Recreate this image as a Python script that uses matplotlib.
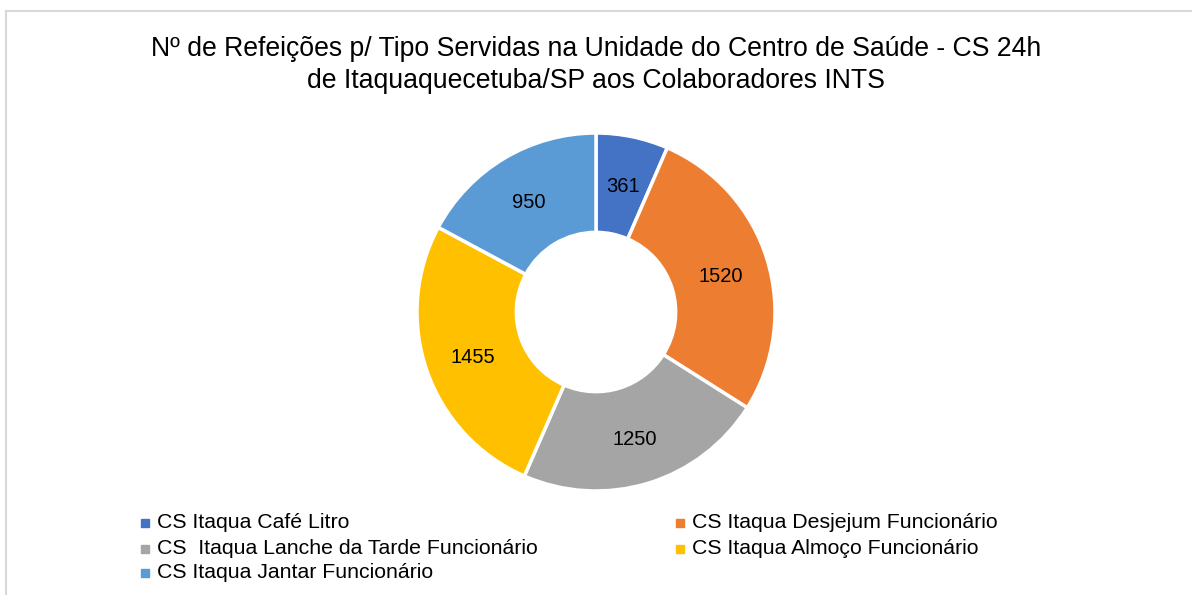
import matplotlib.pyplot as plt
from matplotlib.lines import Line2D
from matplotlib.patches import Rectangle

plt.rcParams['font.family'] = ['Liberation Sans', 'DejaVu Sans']

categorias = ['CS Itaqua Café Litro', 'CS Itaqua Desjejum Funcionário',
              'CS  Itaqua Lanche da Tarde Funcionário', 'CS Itaqua Almoço Funcionário',
              'CS Itaqua Jantar Funcionário']
refeicoes = [361, 1520, 1250, 1455, 950]
cores = ['#4472C4', '#ED7D31', '#A5A5A5', '#FFC000', '#5B9BD5']
titulo = 'Nº de Refeições p/ Tipo Servidas na Unidade do Centro de Saúde - CS 24h\nde Itaquaquecetuba/SP aos Colaboradores INTS'

W, H = 1192, 595
fig = plt.figure(figsize=(W / 100, H / 100), dpi=100)

# pie axes: centre (596, 312) px, radius 179 px
cx, cy, r = 596, 312, 179
ax = fig.add_axes([(cx - r) / W, (H - cy - r) / H, 2 * r / W, 2 * r / H])
total = sum(refeicoes)
wedges, texts, autotexts = ax.pie(
    refeicoes, colors=cores, startangle=90, counterclock=False, radius=1,
    wedgeprops=dict(width=0.555, edgecolor='white', linewidth=2.5),
    autopct=lambda p: '%d' % round(p * total / 100), pctdistance=0.73,
    textprops=dict(fontsize=14.5, color='black'))
for t in autotexts:
    x, y = t.get_position()
    t.set_position((x, y - 0.016))
ax.set_xlim(-1, 1)
ax.set_ylim(-1, 1)
ax.set_aspect('equal')
ax.axis('off')

fig.text(cx / W, 1 - 65 / H, titulo, ha='center', va='center', fontsize=19.2, linespacing=1.3)

# legend, row-major in two columns
xs = [145, 680]
ys = [523, 549, 573]
for i, (lab, c) in enumerate(zip(categorias, cores)):
    x = xs[i % 2]
    y = ys[i // 2]
    fig.patches.append(Rectangle(((x - 4) / W, 1 - (y + 4) / H), 8 / W, 8 / H,
                                 transform=fig.transFigure, color=c))
    fig.text((x + 12) / W, 1 - y / H, lab, ha='left', va='center', fontsize=15.3)

# chart border (partly cropped)
fig.lines.append(Line2D([5.5 / W, 5.5 / W], [0, 1 - 11 / H], transform=fig.transFigure,
                        color='#D9D9D9', lw=1.5))
fig.lines.append(Line2D([5.5 / W, 1], [1 - 11 / H, 1 - 11 / H], transform=fig.transFigure,
                        color='#D9D9D9', lw=1.5))

fig.savefig('out.png', dpi=100)
